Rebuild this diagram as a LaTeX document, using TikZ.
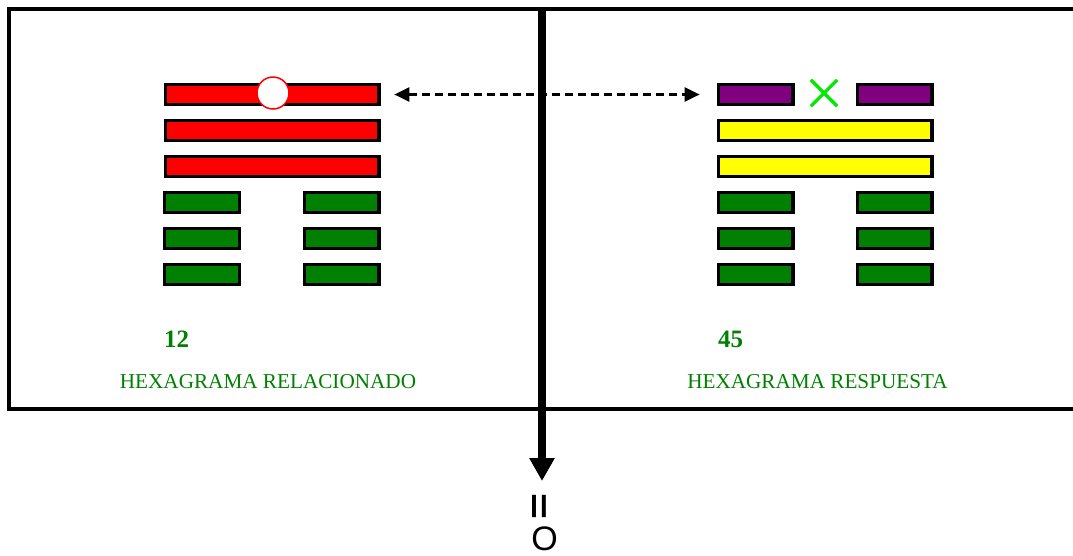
\documentclass[tikz,border=0pt]{standalone}
\usepackage{fontspec}
\setmainfont{Liberation Serif}
\newfontfamily\arialfont{Liberation Sans}
\usetikzlibrary{arrows.meta}
\definecolor{dgreen}{RGB}{0,128,0}
\definecolor{hpurple}{RGB}{128,0,128}
\definecolor{hyellow}{RGB}{255,255,0}
\definecolor{hred}{RGB}{255,0,0}
\definecolor{xgreen}{RGB}{0,235,0}
\begin{document}
\begin{tikzpicture}[x=1pt,y=-1pt,
  bar/.style={draw=black, line width=3.3pt, minimum height=19.7pt, inner sep=0pt, outer sep=0pt, rectangle},
  full/.style={bar, minimum width=213.7pt},
  half/.style={bar, minimum width=74.7pt},
  lbl/.style={text=dgreen, inner sep=0pt},
  numlbl/.style={lbl, font=\bfseries\fontsize{25}{28}\selectfont, anchor=base west},
  caplbl/.style={lbl, font=\fontsize{21.2}{24}\selectfont, anchor=base}]
\useasboundingbox (0,0) rectangle (1073,555);
% frame
\coordinate (ftr) at (1073,9);
\coordinate (ftl) at (9,9);
\coordinate (fbl) at (9,408.5);
\coordinate (fbr) at (1073,408.5);
\draw[line width=4pt] (ftr) -- (ftl) -- (fbl) -- (fbr);
% left hexagram (12)
\node[full, fill=hred] (l6) at (272,94.5) {};
\node[full, fill=hred] (l5) at (272,130.5) {};
\node[full, fill=hred] (l4) at (272,166.5) {};
\node[half, fill=dgreen] (l3a) at (202,202.5) {};
\node[half, fill=dgreen] (l3b) at (341.5,202.5) {};
\node[half, fill=dgreen] (l2a) at (202,238.5) {};
\node[half, fill=dgreen] (l2b) at (341.5,238.5) {};
\node[half, fill=dgreen] (l1a) at (202,274.5) {};
\node[half, fill=dgreen] (l1b) at (341.5,274.5) {};
\node[circle, draw=hred, fill=white, line width=1.5pt, minimum size=32pt, inner sep=0pt] (mov) at (273,93) {};
% right hexagram (45)
\node[half, fill=hpurple] (r6a) at (755.5,94.5) {};
\node[half, fill=hpurple] (r6b) at (894.5,94.5) {};
\node[full, fill=hyellow] (r5) at (825,130.5) {};
\node[full, fill=hyellow] (r4) at (825,166.5) {};
\node[half, fill=dgreen] (r3a) at (755.5,202.5) {};
\node[half, fill=dgreen] (r3b) at (894.5,202.5) {};
\node[half, fill=dgreen] (r2a) at (755.5,238.5) {};
\node[half, fill=dgreen] (r2b) at (894.5,238.5) {};
\node[half, fill=dgreen] (r1a) at (755.5,274.5) {};
\node[half, fill=dgreen] (r1b) at (894.5,274.5) {};
\node[minimum size=26pt, inner sep=0pt] (xm) at (824,93) {};
\draw[xgreen, line width=3.2pt] (xm.north west) -- (xm.south east) (xm.north east) -- (xm.south west);
% dashed double arrow
\draw[line width=2.4pt, dash pattern=on 8pt off 5pt, {Triangle[length=15pt,width=14pt]}-{Triangle[length=15pt,width=14pt]}, shorten <=15.5pt, shorten >=18.5pt] (l6.east) -- (r6a.west);
% labels
\node[numlbl] (n12) at (164,347) {12};
\node[numlbl] (n45) at (718,347) {45};
\node[caplbl] (c12) at (268,388) {HEXAGRAMA RELACIONADO};
\node[caplbl] (c45) at (817.5,388) {HEXAGRAMA RESPUESTA};
% central arrow
\coordinate (vtop) at (542,9);
\coordinate (vtip) at (542,481);
\draw[line width=8pt, -{Triangle[length=23pt,width=24pt]}] (vtop) -- (vtip);
\node[inner sep=0pt, font=\arialfont\bfseries] (eq) at (541.5,506.5) {\resizebox{19pt}{26pt}{\rotatebox{90}{=}}};
\node[inner sep=0pt, font=\arialfont\fontsize{34}{34}\selectfont] (oo) at (544.7,539) {O};
\end{tikzpicture}
\end{document}
